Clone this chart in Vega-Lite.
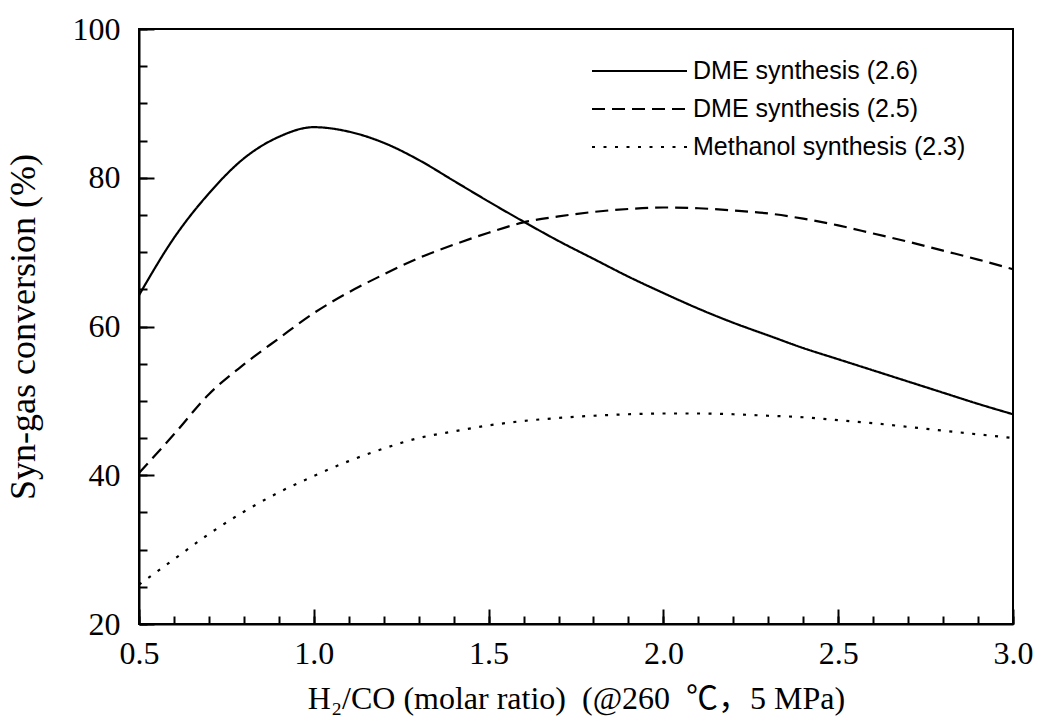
{
  "$schema": "https://vega.github.io/schema/vega-lite/v6.json",
  "width": 874,
  "height": 595,
  "autosize": "none",
  "padding": {"left": 139, "top": 29, "right": 25, "bottom": 96},
  "background": "white",
  "config": {"view": {"stroke": "black", "strokeWidth": 2}},
  "data": {"values": [
    {"s": "DME synthesis (2.6)", "x": 0.5, "y": 64.2},
    {"s": "DME synthesis (2.6)", "x": 0.6, "y": 71.9},
    {"s": "DME synthesis (2.6)", "x": 0.7, "y": 77.9},
    {"s": "DME synthesis (2.6)", "x": 0.8, "y": 82.6},
    {"s": "DME synthesis (2.6)", "x": 0.9, "y": 85.5},
    {"s": "DME synthesis (2.6)", "x": 1.0, "y": 86.8},
    {"s": "DME synthesis (2.6)", "x": 1.1, "y": 86.2},
    {"s": "DME synthesis (2.6)", "x": 1.2, "y": 84.7},
    {"s": "DME synthesis (2.6)", "x": 1.3, "y": 82.4},
    {"s": "DME synthesis (2.6)", "x": 1.4, "y": 79.6},
    {"s": "DME synthesis (2.6)", "x": 1.5, "y": 76.8},
    {"s": "DME synthesis (2.6)", "x": 1.6, "y": 74.1},
    {"s": "DME synthesis (2.6)", "x": 1.7, "y": 71.5},
    {"s": "DME synthesis (2.6)", "x": 1.8, "y": 69.1},
    {"s": "DME synthesis (2.6)", "x": 1.9, "y": 66.7},
    {"s": "DME synthesis (2.6)", "x": 2.0, "y": 64.5},
    {"s": "DME synthesis (2.6)", "x": 2.1, "y": 62.4},
    {"s": "DME synthesis (2.6)", "x": 2.2, "y": 60.5},
    {"s": "DME synthesis (2.6)", "x": 2.3, "y": 58.8},
    {"s": "DME synthesis (2.6)", "x": 2.4, "y": 57.1},
    {"s": "DME synthesis (2.6)", "x": 2.5, "y": 55.6},
    {"s": "DME synthesis (2.6)", "x": 2.6, "y": 54.1},
    {"s": "DME synthesis (2.6)", "x": 2.7, "y": 52.6},
    {"s": "DME synthesis (2.6)", "x": 2.8, "y": 51.1},
    {"s": "DME synthesis (2.6)", "x": 2.9, "y": 49.6},
    {"s": "DME synthesis (2.6)", "x": 3.0, "y": 48.2},
    {"s": "DME synthesis (2.5)", "x": 0.5, "y": 40.3},
    {"s": "DME synthesis (2.5)", "x": 0.6, "y": 45.5},
    {"s": "DME synthesis (2.5)", "x": 0.7, "y": 50.9},
    {"s": "DME synthesis (2.5)", "x": 0.8, "y": 54.9},
    {"s": "DME synthesis (2.5)", "x": 0.9, "y": 58.4},
    {"s": "DME synthesis (2.5)", "x": 1.0, "y": 61.8},
    {"s": "DME synthesis (2.5)", "x": 1.1, "y": 64.6},
    {"s": "DME synthesis (2.5)", "x": 1.2, "y": 67.0},
    {"s": "DME synthesis (2.5)", "x": 1.3, "y": 69.2},
    {"s": "DME synthesis (2.5)", "x": 1.4, "y": 71.0},
    {"s": "DME synthesis (2.5)", "x": 1.5, "y": 72.6},
    {"s": "DME synthesis (2.5)", "x": 1.6, "y": 74.0},
    {"s": "DME synthesis (2.5)", "x": 1.7, "y": 74.8},
    {"s": "DME synthesis (2.5)", "x": 1.8, "y": 75.4},
    {"s": "DME synthesis (2.5)", "x": 1.9, "y": 75.8},
    {"s": "DME synthesis (2.5)", "x": 2.0, "y": 76.0},
    {"s": "DME synthesis (2.5)", "x": 2.1, "y": 75.9},
    {"s": "DME synthesis (2.5)", "x": 2.2, "y": 75.6},
    {"s": "DME synthesis (2.5)", "x": 2.3, "y": 75.2},
    {"s": "DME synthesis (2.5)", "x": 2.4, "y": 74.5},
    {"s": "DME synthesis (2.5)", "x": 2.5, "y": 73.6},
    {"s": "DME synthesis (2.5)", "x": 2.6, "y": 72.5},
    {"s": "DME synthesis (2.5)", "x": 2.7, "y": 71.4},
    {"s": "DME synthesis (2.5)", "x": 2.8, "y": 70.2},
    {"s": "DME synthesis (2.5)", "x": 2.9, "y": 69.0},
    {"s": "DME synthesis (2.5)", "x": 3.0, "y": 67.7},
    {"s": "Methanol synthesis (2.3)", "x": 0.5, "y": 25.3},
    {"s": "Methanol synthesis (2.3)", "x": 0.6, "y": 28.7},
    {"s": "Methanol synthesis (2.3)", "x": 0.7, "y": 32.1},
    {"s": "Methanol synthesis (2.3)", "x": 0.8, "y": 35.1},
    {"s": "Methanol synthesis (2.3)", "x": 0.9, "y": 37.7},
    {"s": "Methanol synthesis (2.3)", "x": 1.0, "y": 39.9},
    {"s": "Methanol synthesis (2.3)", "x": 1.1, "y": 41.9},
    {"s": "Methanol synthesis (2.3)", "x": 1.2, "y": 43.6},
    {"s": "Methanol synthesis (2.3)", "x": 1.3, "y": 45.0},
    {"s": "Methanol synthesis (2.3)", "x": 1.4, "y": 45.9},
    {"s": "Methanol synthesis (2.3)", "x": 1.5, "y": 46.7},
    {"s": "Methanol synthesis (2.3)", "x": 1.6, "y": 47.3},
    {"s": "Methanol synthesis (2.3)", "x": 1.7, "y": 47.7},
    {"s": "Methanol synthesis (2.3)", "x": 1.8, "y": 48.0},
    {"s": "Methanol synthesis (2.3)", "x": 1.9, "y": 48.2},
    {"s": "Methanol synthesis (2.3)", "x": 2.0, "y": 48.3},
    {"s": "Methanol synthesis (2.3)", "x": 2.1, "y": 48.3},
    {"s": "Methanol synthesis (2.3)", "x": 2.2, "y": 48.2},
    {"s": "Methanol synthesis (2.3)", "x": 2.3, "y": 48.0},
    {"s": "Methanol synthesis (2.3)", "x": 2.4, "y": 47.8},
    {"s": "Methanol synthesis (2.3)", "x": 2.5, "y": 47.4},
    {"s": "Methanol synthesis (2.3)", "x": 2.6, "y": 47.0},
    {"s": "Methanol synthesis (2.3)", "x": 2.7, "y": 46.5},
    {"s": "Methanol synthesis (2.3)", "x": 2.8, "y": 46.0},
    {"s": "Methanol synthesis (2.3)", "x": 2.9, "y": 45.5},
    {"s": "Methanol synthesis (2.3)", "x": 3.0, "y": 45.0}
  ]},
  "resolve": {"axis": {"x": "independent", "y": "independent"}},
  "layer": [
    {
      "mark": {"type": "line", "color": "black", "strokeWidth": 2.2, "interpolate": "monotone"},
      "encoding": {
        "x": {
          "field": "x", "type": "quantitative",
          "scale": {"domain": [0.5, 3.0], "nice": false, "zero": false},
          "axis": {
            "orient": "bottom",
            "values": [0.5,0.6,0.7,0.8,0.9,1.0,1.1,1.2,1.3,1.4,1.5,1.6,1.7,1.8,1.9,2.0,2.1,2.2,2.3,2.4,2.5,2.6,2.7,2.8,2.9,3.0],
            "labelExpr": "round(datum.value*10) % 5 === 0 ? format(datum.value, '.1f') : ''",
            "tickSize": -8,
            "tickColor": "black", "tickWidth": 2,
            "domainColor": "black", "domainWidth": 2,
            "grid": false,
            "labelFlush": false,
            "labelOverlap": false,
            "labelFont": "Liberation Serif", "labelFontSize": 32, "labelColor": "black",
            "labelPadding": 22,
            "title": "H₂/CO (molar ratio)\u2002(@260\u2002℃，5 MPa)",
            "titleFont": "Liberation Serif, Noto Sans CJK SC", "titleFontSize": 32, "titleFontWeight": "normal", "titleColor": "black",
            "titlePadding": 14
          }
        },
        "y": {
          "field": "y", "type": "quantitative",
          "scale": {"domain": [20, 100], "nice": false, "zero": false},
          "axis": {
            "orient": "left",
            "values": [20,25,30,35,40,45,50,55,60,65,70,75,80,85,90,95,100],
            "labelExpr": "datum.value % 20 === 0 ? datum.label : ''",
            "tickSize": -8,
            "tickColor": "black", "tickWidth": 2,
            "domainColor": "black", "domainWidth": 2,
            "grid": false,
            "labelFlush": false,
            "labelOverlap": false,
            "labelFont": "Liberation Serif", "labelFontSize": 32, "labelColor": "black",
            "labelPadding": 27,
            "title": "Syn-gas conversion (%)",
            "titleFont": "Liberation Serif", "titleFontSize": 36, "titleFontWeight": "normal", "titleColor": "black",
            "titlePadding": 30
          }
        },
        "strokeDash": {
          "field": "s", "type": "nominal",
          "scale": {
            "domain": ["DME synthesis (2.6)", "DME synthesis (2.5)", "Methanol synthesis (2.3)"],
            "range": [[1, 0], [13, 7], [3, 8.5]]
          },
          "legend": {
            "title": null,
            "orient": "none", "legendX": 452, "legendY": 27,
            "symbolType": "stroke", "symbolSize": 9025, "symbolStrokeWidth": 2, "symbolStrokeColor": "black",
            "clipHeight": 30, "rowPadding": 8,
            "labelFont": "Liberation Sans", "labelFontSize": 25, "labelColor": "black",
            "labelOffset": 5, "labelLimit": 400
          }
        }
      }
    },
    {
      "mark": {"type": "line", "opacity": 0},
      "encoding": {
        "detail": {"field": "s", "type": "nominal"},
        "x": {
          "field": "x", "type": "quantitative",
          "axis": {
            "orient": "bottom",
            "values": [0.5, 1.0, 1.5, 2.0, 2.5, 3.0],
            "labels": false, "domain": false, "grid": false, "title": null,
            "tickSize": -15, "tickColor": "black", "tickWidth": 2
          }
        },
        "y": {
          "field": "y", "type": "quantitative",
          "axis": {
            "orient": "left",
            "values": [20, 40, 60, 80, 100],
            "labels": false, "domain": false, "grid": false, "title": null,
            "tickSize": -15, "tickColor": "black", "tickWidth": 2
          }
        }
      }
    }
  ]
}
